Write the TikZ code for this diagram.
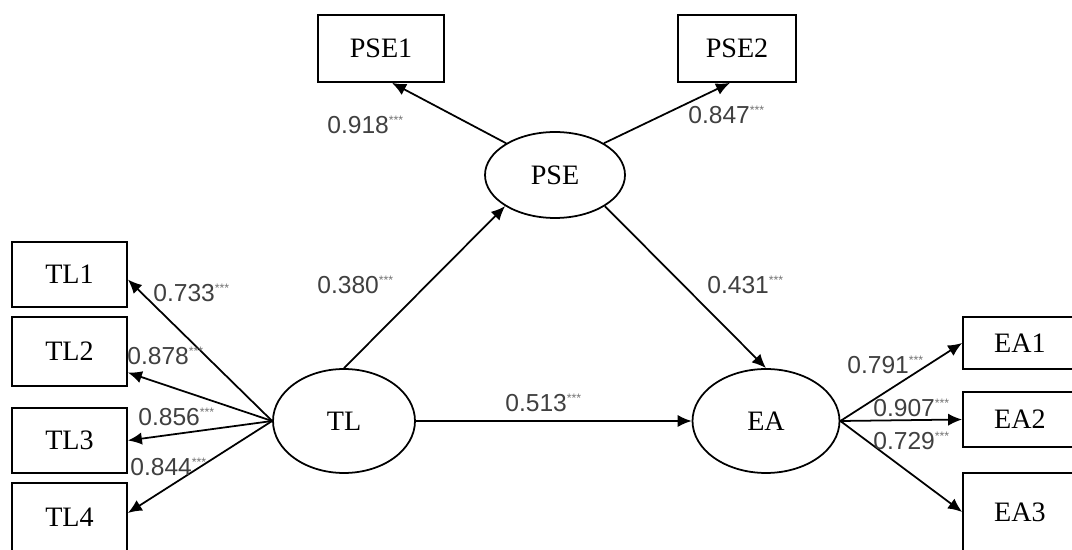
\documentclass[tikz,border=0pt]{standalone}
\usepackage{fontspec}
\setmainfont{Liberation Serif}
\setsansfont{Liberation Sans}
\usetikzlibrary{shapes.geometric,arrows.meta}
\newcommand{\stars}{\textsuperscript{\color{black!55}\scriptsize***}}

\begin{document}
\begin{tikzpicture}[x=0.02cm,y=-0.02cm,
        box/.style={draw,line width=1pt,minimum width=2.3cm,inner sep=0pt,font=\fontsize{16}{18}\selectfont},
        latent/.style={draw,line width=1pt,ellipse,inner sep=0pt,font=\fontsize{16}{18}\selectfont},
        link/.style={line width=1pt,-{Latex[length=8pt,width=7pt]}},
        coef/.style={inner sep=0pt,anchor=west,text=black!75,font=\sffamily\fontsize{14}{16}\selectfont}]
    \useasboundingbox (0,0) rectangle (1072,550);

    % latent variables
    \node[latent,minimum width=2.84cm,minimum height=2.08cm] (tl) at (344,421) {TL};
    \node[latent,minimum width=2.8cm,minimum height=1.72cm] (pse) at (555,175) {PSE};
    \node[latent,minimum width=2.94cm,minimum height=2.08cm] (ea) at (766,421) {EA};

    % indicators
    \node[box,minimum height=1.3cm] (tl1) at (69.5,274.5) {TL1};
    \node[box,minimum height=1.38cm] (tl2) at (69.5,351.5) {TL2};
    \node[box,minimum height=1.3cm] (tl3) at (69.5,440.5) {TL3};
    \node[box,minimum height=1.36cm] (tl4) at (69.5,517) {TL4};
    \node[box,minimum width=2.52cm,minimum height=1.34cm] (pse1) at (381,48.5) {PSE1};
    \node[box,minimum width=2.36cm,minimum height=1.34cm] (pse2) at (737,48.5) {PSE2};
    \node[box,minimum width=2.28cm,minimum height=1.04cm] (ea1) at (1020,343) {EA1};
    \node[box,minimum width=2.28cm,minimum height=1.1cm] (ea2) at (1020,419.5) {EA2};
    \node[box,minimum width=2.28cm,minimum height=1.56cm] (ea3) at (1020,512) {EA3};

    % loadings
    \draw[link] (tl.west) -- ([yshift=-0.1cm]tl1.east);
    \draw[link] (tl.west) -- ([yshift=-0.42cm]tl2.east);
    \draw[link] (tl.west) -- (tl3.east);
    \draw[link] (tl.west) -- ([yshift=0.08cm]tl4.east);
    \draw[link] (pse.147) -- ([xshift=0.22cm]pse1.south);
    \draw[link] (pse.33) -- ([xshift=-0.14cm]pse2.south);
    \foreach \i in {1,2,3} {
        \draw[link] (ea.east) -- (ea\i.west);
    }

    % paths
    \draw[link] (tl.north) -- (pse.212);
    \draw[link] (pse.-32) -- (ea.north);
    \draw[link] (tl.east) -- (ea.west);

    % coefficients
    \node[coef] (c1) at (153,293) {0.733\stars};
    \node[coef] (c2) at (127,356) {0.878\stars};
    \node[coef] (c3) at (138,417) {0.856\stars};
    \node[coef] (c4) at (130,467) {0.844\stars};
    \node[coef] (c5) at (327,125) {0.918\stars};
    \node[coef] (c6) at (688,115) {0.847\stars};
    \node[coef] (c7) at (317,285) {0.380\stars};
    \node[coef] (c8) at (707,285) {0.431\stars};
    \node[coef] (c9) at (505,403) {0.513\stars};
    \node[coef] (c10) at (847,365) {0.791\stars};
    \node[coef] (c11) at (873,408) {0.907\stars};
    \node[coef] (c12) at (873,441) {0.729\stars};
\end{tikzpicture}
\end{document}
